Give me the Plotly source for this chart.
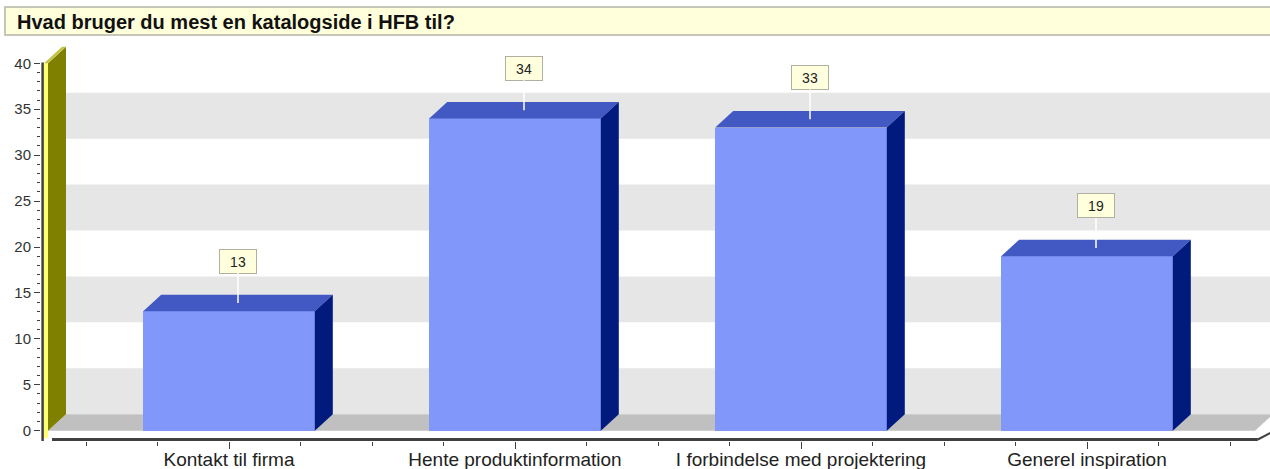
import plotly.graph_objects as go

# ---------------- data ----------------
categories = ["Kontakt til firma", "Hente produktinformation",
              "I forbindelse med projektering", "Generel inspiration"]
values = [13, 34, 33, 19]
y_ticks = [0, 5, 10, 15, 20, 25, 30, 35, 40]
y_minor_ticks = [v for v in range(0, 41) if v % 5 != 0]
title_text = "Hvad bruger du mest en katalogside i HFB til?"

# ---------------- layout calibration ----------------
W, H = 1270, 469
L, R, T, B = 41, 1270, 40, 441          # plot area in pixels
X0PX, XSTEP = 229.0, 286.0              # pixel of category 0, pixels per category
Y0PX, YSTEP = 430.7, 9.185              # pixel of value 0, pixels per unit

def xd(px):
    return (px - X0PX) / XSTEP

def yd(py):
    return (Y0PX - py) / YSTEP

def xp(px):
    return (px - L) / (R - L)

def yp(py):
    return (B - py) / (B - T)

DX = 18.0 / XSTEP      # 3D depth, x
DY = 16.5 / YSTEP      # 3D depth, y
BW = 0.6               # bar width
YMAX = y_ticks[-1]

FONT = "Liberation Sans, Arial, sans-serif"
FRONT, TOP, SIDE = "#8197fa", "#4259c3", "#001a7e"

wf0, wf1 = xd(44), xd(48)               # yellow wall front face
x_end = xd(1255)                        # floor front right end

shapes = []

def poly(pts, color, layer="below"):
    path = "M " + " L ".join(f"{x},{y}" for x, y in pts) + " Z"
    return dict(type="path", path=path, xref="x", yref="y",
                fillcolor=color, line=dict(width=0), layer=layer)

# back wall bands
for k in range(0, YMAX, 10):
    shapes.append(poly([(wf1 + DX, k + DY), (xd(R + 20), k + DY),
                        (xd(R + 20), k + 5 + DY), (wf1 + DX, k + 5 + DY)], "#e6e6e6"))
# floor
shapes.append(poly([(wf1, 0), (x_end, 0), (x_end + DX, DY), (wf1 + DX, DY)], "#c0c0c0"))
# yellow wall: side, front, top
shapes.append(poly([(wf1, 0), (wf1 + DX, DY), (wf1 + DX, YMAX + DY), (wf1, YMAX)], "#808000"))
shapes.append(poly([(wf0, yd(438)), (wf1, yd(438)), (wf1, YMAX), (wf0, YMAX)], "#ffff70"))
shapes.append(poly([(wf0, YMAX), (wf1, YMAX), (wf1 + DX, YMAX + DY), (wf0 + DX, YMAX + DY)], "#c4c44c"))
# axis lines
shapes.append(dict(type="line", xref="x", yref="y", x0=xd(52), x1=x_end + 0.01,
                   y0=yd(439.5), y1=yd(439.5), line=dict(color="#404040", width=3), layer="above"))
shapes.append(dict(type="line", xref="x", yref="y", x0=x_end + 0.01, x1=x_end + 0.01 + DX * 0.7,
                   y0=yd(439.5), y1=yd(439.5) + DY * 0.4, line=dict(color="#404040", width=2), layer="above"))
shapes.append(dict(type="line", xref="x", yref="y", x0=xd(42.6), x1=xd(42.6),
                   y0=yd(441), y1=YMAX + 0.1, line=dict(color="#404040", width=2.5), layer="above"))
# title box
shapes.append(dict(type="rect", xref="paper", yref="paper",
                   x0=xp(5), x1=xp(1290), y0=yp(35), y1=yp(7),
                   fillcolor="#ffffdc", line=dict(color="#b4b4a8", width=1.5), layer="above"))

fig = go.Figure()
xs = list(range(len(categories)))

# front faces
fig.add_trace(go.Bar(x=xs, y=values, width=BW, marker=dict(color=FRONT, line=dict(width=0)),
                     hoverinfo="skip", showlegend=False))
# top and side faces
for i, v in zip(xs, values):
    a, b = i - BW / 2, i + BW / 2
    fig.add_trace(go.Scatter(x=[a, b, b + DX, a + DX, a], y=[v, v, v + DY, v + DY, v],
                             fill="toself", fillcolor=TOP, mode="lines", line=dict(width=0),
                             hoverinfo="skip", showlegend=False))
    fig.add_trace(go.Scatter(x=[b, b + DX, b + DX, b, b], y=[0, DY, v + DY, v, 0],
                             fill="toself", fillcolor=SIDE, mode="lines", line=dict(width=0),
                             hoverinfo="skip", showlegend=False))

annotations = []
for i, v in zip(xs, values):
    annotations.append(dict(x=i + DX / 2, y=v + DY / 2, xref="x", yref="y", text=str(v),
                            showarrow=True, arrowhead=0, arrowwidth=1.5, arrowcolor="white",
                            ax=0, ay=-42, standoff=0,
                            bgcolor="#ffffdd", bordercolor="#b0b0a0", borderwidth=1,
                            borderpad=1, width=34, height=21,
                            font=dict(family=FONT, size=14, color="#222222")))

fig.update_layout(
    width=W, height=H,
    margin=dict(l=L, r=W - R, t=T, b=H - B, pad=0),
    paper_bgcolor="white", plot_bgcolor="white",
    shapes=shapes, annotations=annotations,
    bargap=0,
    title=dict(text="<b>" + title_text + "</b>", xref="container", yref="container",
               x=17 / W, y=1 - 21.5 / H, xanchor="left", yanchor="middle",
               font=dict(family=FONT, size=20, color="#111111")),
    xaxis=dict(range=[xd(L), xd(R)], tickvals=xs, ticktext=categories,
               showgrid=False, zeroline=False, showline=False,
               ticks="outside", ticklen=7, tickwidth=1, tickcolor="#404040",
               ticklabelstandoff=-6,
               minor=dict(tickvals=[i + d for i in xs for d in (-0.5, -0.25, 0.25)] + [3.5],
                          ticks="outside", ticklen=4, tickwidth=1, tickcolor="#404040"),
               tickfont=dict(family=FONT, size=19, color="#222222"),
               fixedrange=True, automargin=False),
    yaxis=dict(range=[yd(B), yd(T)], tickvals=y_ticks,
               showgrid=False, zeroline=False, showline=False,
               ticks="outside", ticklen=6, tickwidth=1, tickcolor="#404040",
               minor=dict(tickvals=y_minor_ticks, ticks="outside", ticklen=3,
                          tickwidth=1, tickcolor="#404040"),
               tickfont=dict(family=FONT, size=15, color="#333333"),
               fixedrange=True, automargin=False),
)

fig.write_html("out.html", config={"displayModeBar": False},
               post_script="document.body.style.margin='0';document.body.style.overflow='hidden';")
